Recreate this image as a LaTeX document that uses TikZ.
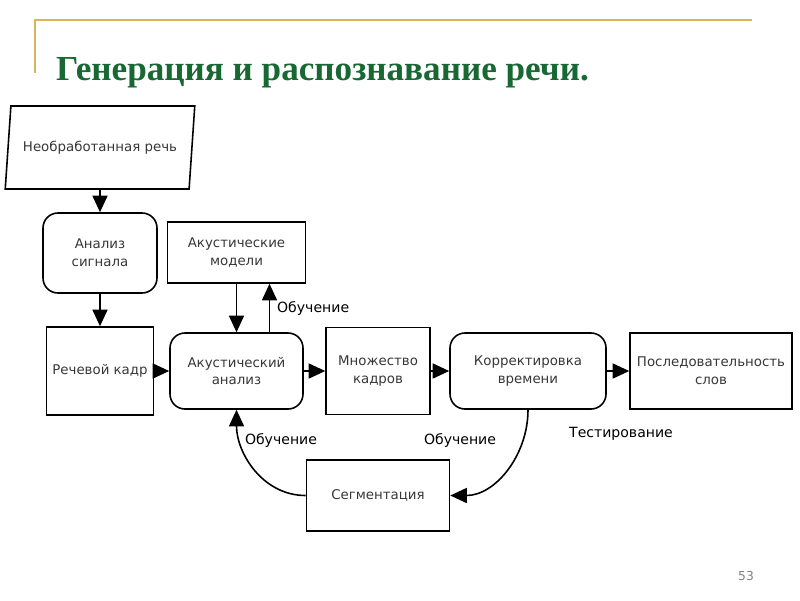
\documentclass[tikz,border=0pt]{standalone}
\usepackage{fontspec}
\setmainfont{DejaVu Sans}
\newfontfamily\titlefont{Liberation Serif}
\usetikzlibrary{arrows.meta, positioning, shapes.geometric}
\definecolor{titlegreen}{RGB}{24,104,52}
\definecolor{slidegold}{RGB}{214,182,86}
\definecolor{boxtext}{RGB}{55,55,55}
\tikzstyle{io} = [trapezium, trapezium left angle=78, trapezium right angle=102, trapezium stretches=true, minimum width=3.82cm, minimum height=1.66cm, align=center, draw=black, line width=0.9pt, text=boxtext]
\tikzstyle{process} = [rectangle, align=center, draw=black, line width=0.9pt, text=boxtext]
\tikzstyle{rprocess} = [process, rounded corners=0.3cm]
\tikzstyle{arrow} = [line width=0.9pt, -{Triangle[length=3.3mm,width=3mm]}]
\tikzstyle{lbl} = [font={\fontsize{8pt}{10pt}\selectfont}, text=black]
\tikzset{
  font={\fontsize{7.6pt}{10.2pt}\selectfont}}

\begin{document}
\begin{tikzpicture}[node distance = 2cm]
    \useasboundingbox (0,0) rectangle (16,-12);
    % slide frame and title
    \draw [slidegold, line width=1.2pt] (0.7,-1.46) |- (15.04,-0.4);
    \node (title) [anchor=base west, text=titlegreen, font={\titlefont\bfseries\fontsize{20pt}{24pt}\selectfont}] at (1.0,-1.6) {Генерация и распознавание речи.};

    \node (raw) [io] at (2.0,-2.95) {Необработанная речь};
    \node (signal) [rprocess, below of=raw, yshift=-0.11cm, minimum width=2.28cm, minimum height=1.6cm] {Анализ\\сигнала};
    \node (frame) [process, below of=signal, yshift=-0.36cm, minimum width=2.12cm, minimum height=1.76cm] {Речевой кадр};
    \node (acan) [rprocess, right of=frame, xshift=0.73cm, minimum width=2.66cm, minimum height=1.52cm] {Акустический\\анализ};
    \node (models) [process, above of=acan, yshift=0.37cm, minimum width=2.76cm, minimum height=1.22cm] {Акустические\\модели};
    \node (set) [process, right of=acan, xshift=0.83cm, minimum width=2.08cm, minimum height=1.74cm] {Множество\\кадров};
    \node (corr) [rprocess, right of=set, xshift=1cm, minimum width=3.12cm, minimum height=1.52cm] {Корректировка\\времени};
    \node (seq) [process, right of=corr, xshift=1.66cm, minimum width=3.24cm, minimum height=1.52cm] {Последовательность\\слов};
    \node (seg) [process, below of=set, yshift=-0.49cm, minimum width=2.86cm, minimum height=1.42cm] {Сегментация};

    \draw [arrow] (raw) -- (signal);
    \draw [arrow] (signal) -- (frame);
    \draw [arrow] (models.south) -- (models.south |- acan.north);
    \draw [arrow] ([xshift=0.66cm]acan.north) -- ([xshift=0.66cm]acan.north |- models.south) node[lbl, midway, right, xshift=0.02cm] (train1) {Обучение};
    \draw [arrow] (frame) -- (acan);
    \draw [arrow] (acan) -- (set);
    \draw [arrow] (set) -- (corr);
    \draw [arrow] (corr) -- (seq);
    \draw [arrow] (corr.south) to[out=-90, in=0] (seg.east);
    \draw [arrow] (seg.west) to[out=180, in=-90] (acan.south);

    \node (testing) [lbl] at (12.42,-8.68) {Тестирование};
    \node (train2) [lbl] at (9.2,-8.8) {Обучение};
    \node (train3) [lbl] at (5.62,-8.8) {Обучение};

    \node (pagenum) [text=gray, font={\fontsize{7pt}{8pt}\selectfont}] at (14.92,-11.52) {53};
\end{tikzpicture}
\end{document}
